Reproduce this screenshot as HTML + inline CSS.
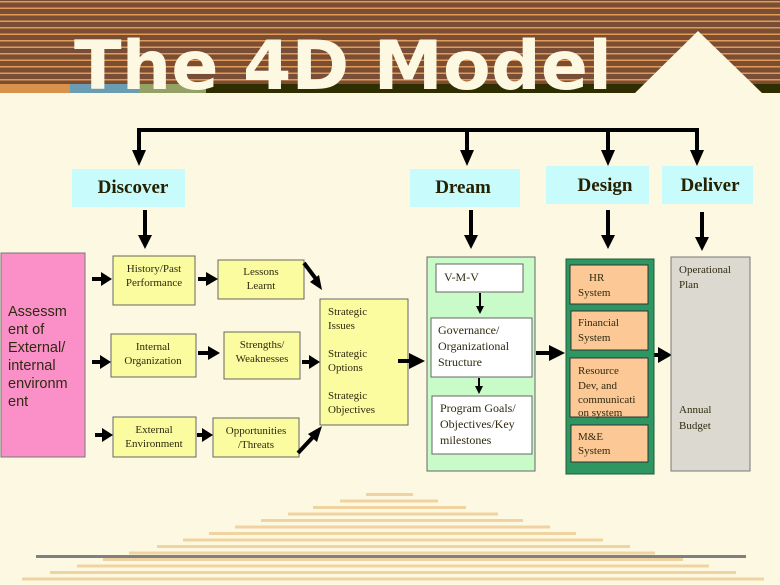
<!DOCTYPE html>
<html><head><meta charset="utf-8"><style>
html,body{margin:0;padding:0;background:#fdf8e2;}
svg{display:block}
.s{font-family:"Liberation Serif",serif;fill:#2f2a10;}
</style></head><body>
<svg width="780" height="585" viewBox="0 0 780 585" xmlns="http://www.w3.org/2000/svg">
<rect width="780" height="585" fill="#fdf8e2"/>
<!-- header stripes -->
<rect x="0" y="0" width="780" height="88" fill="#7a4e35"/>
<g fill="#e39a55">
<rect x="0" y="1" width="780" height="1.5"/><rect x="0" y="7.5" width="780" height="1.5"/><rect x="0" y="14" width="780" height="1.5"/><rect x="0" y="20.5" width="780" height="1.5"/><rect x="0" y="27" width="780" height="1.5"/><rect x="0" y="33.5" width="780" height="1.5"/><rect x="0" y="40" width="780" height="1.5"/><rect x="0" y="46.5" width="780" height="1.5"/><rect x="0" y="53" width="780" height="1.5"/><rect x="0" y="59.5" width="780" height="1.5"/><rect x="0" y="66" width="780" height="1.5"/><rect x="0" y="72.5" width="780" height="1.5"/><rect x="0" y="79" width="780" height="1.5"/>
</g>
<rect x="0" y="84" width="780" height="9" fill="#2e2e00"/>
<rect x="0" y="84" width="70" height="9" fill="#d9924c"/>
<rect x="70" y="84" width="69" height="9" fill="#6a9cb3"/>
<rect x="139" y="84" width="67" height="9" fill="#94a064"/>
<rect x="0" y="93" width="780" height="40" fill="#fdf8e2"/>
<polygon points="698,31 635,93 762,93" fill="#fdf8e2"/>
<text x="74" y="89" font-family="DejaVu Sans, sans-serif" font-weight="bold" font-size="68" fill="#fdf8e2" textLength="538" lengthAdjust="spacingAndGlyphs">The 4D Model</text>

<!-- top bracket -->
<g stroke="#000" stroke-width="4" fill="none">
<polyline points="139,150 139,130 697,130 697,150"/>
<line x1="467" y1="130" x2="467" y2="150"/><line x1="608" y1="130" x2="608" y2="150"/>
</g>
<g fill="#000">
<polygon points="132,150 146,150 139,166"/><polygon points="460,150 474,150 467,166"/><polygon points="601,150 615,150 608,166"/><polygon points="690,150 704,150 697,166"/>
</g>
<!-- labels -->
<g fill="#c8fbfc">
<rect x="72" y="169" width="113" height="38"/><rect x="410" y="169" width="110" height="38"/><rect x="546" y="166" width="103" height="38"/><rect x="662" y="166" width="91" height="38"/>
</g>
<g font-family="Liberation Serif,serif" fill="#262100" font-weight="bold" font-size="19" text-anchor="middle">
<text x="133" y="193">Discover</text><text x="463" y="193">Dream</text><text x="605" y="191">Design</text><text x="710" y="191">Deliver</text>
</g>
<!-- down arrows -->
<g stroke="#000" stroke-width="4"><line x1="145" y1="210" x2="145" y2="236"/><line x1="471" y1="210" x2="471" y2="236"/><line x1="608" y1="210" x2="608" y2="236"/><line x1="702" y1="212" x2="702" y2="238"/></g>
<g fill="#000"><polygon points="138,235 152,235 145,249"/><polygon points="464,235 478,235 471,249"/><polygon points="601,235 615,235 608,249"/><polygon points="695,237 709,237 702,251"/></g>

<!-- pink -->
<rect x="1" y="253" width="84" height="204" fill="#fb90c9" stroke="#777" stroke-width="1"/>
<g font-family="Liberation Sans, sans-serif" font-size="14.5" fill="#2f2a10">
<text x="8" y="316">Assessm</text><text x="8" y="334">ent of</text><text x="8" y="352">External/</text><text x="8" y="370">internal</text><text x="8" y="388">environm</text><text x="8" y="406">ent</text>
</g>
<!-- yellow boxes -->
<g fill="#fbfb9f" stroke="#666" stroke-width="1">
<rect x="113" y="256" width="82" height="49"/><rect x="218" y="260" width="86" height="39"/>
<rect x="111" y="334" width="85" height="43"/><rect x="224" y="332" width="76" height="47"/>
<rect x="113" y="417" width="83" height="40"/><rect x="213" y="418" width="86" height="39"/>
<rect x="320" y="299" width="88" height="126"/>
</g>
<g class="s" font-size="11" text-anchor="middle">
<text x="154" y="272">History/Past</text><text x="154" y="286">Performance</text>
<text x="261" y="275">Lessons</text><text x="261" y="289">Learnt</text>
<text x="153" y="350">Internal</text><text x="153" y="364">Organization</text>
<text x="262" y="348">Strengths/</text><text x="262" y="362">Weaknesses</text>
<text x="154" y="433">External</text><text x="154" y="447">Environment</text>
<text x="256" y="434">Opportunities</text><text x="256" y="448">/Threats</text>
</g>
<g class="s" font-size="11">
<text x="328" y="315">Strategic</text><text x="328" y="329">Issues</text>
<text x="328" y="357">Strategic</text><text x="328" y="371">Options</text>
<text x="328" y="399">Strategic</text><text x="328" y="413">Objectives</text>
</g>
<!-- short arrows -->
<g stroke="#000" stroke-width="4">
<line x1="92" y1="279" x2="102" y2="279"/><line x1="198" y1="279" x2="207" y2="279"/>
<line x1="92" y1="362" x2="101" y2="362"/><line x1="198" y1="353" x2="209" y2="353"/><line x1="302" y1="362" x2="310" y2="362"/>
<line x1="95" y1="435" x2="103" y2="435"/><line x1="197" y1="435" x2="203" y2="435"/>
<line x1="304" y1="263" x2="316" y2="279"/><line x1="298" y1="453" x2="313" y2="437"/>
<line x1="398" y1="361" x2="410" y2="361"/><line x1="536" y1="353" x2="550" y2="353"/><line x1="651" y1="355" x2="659" y2="355"/>
</g>
<g fill="#000">
<polygon points="101,272 112,279 101,286"/><polygon points="206,272 218,279 206,286"/>
<polygon points="100,355 111,362 100,369"/><polygon points="208,346 220,353 208,360"/><polygon points="309,355 320,362 309,369"/>
<polygon points="102,428 113,435 102,442"/><polygon points="202,428 213,435 202,442"/>
<polygon points="310,282 322,290 319,275"/><polygon points="308,434 322,426 317,442"/>
<polygon points="409,353 425,361 409,369"/><polygon points="549,345 565,353 549,361"/><polygon points="658,347 672,355 658,363"/>
</g>
<!-- dream -->
<rect x="427" y="257" width="108" height="214" fill="#c8fbc8" stroke="#666"/>
<g fill="#fff" stroke="#666"><rect x="436" y="264" width="87" height="28"/><rect x="431" y="318" width="101" height="59"/><rect x="432" y="396" width="100" height="58"/></g>
<g stroke="#000" stroke-width="2"><line x1="480" y1="293" x2="480" y2="308"/><line x1="479" y1="378" x2="479" y2="387"/></g>
<g fill="#000"><polygon points="476,306 484,306 480,314"/><polygon points="475,386 483,386 479,394"/></g>
<g class="s" font-size="12">
<text x="444" y="281">V-M-V</text>
<text x="438" y="334">Governance/</text><text x="438" y="350">Organizational</text><text x="438" y="366">Structure</text>
<text x="440" y="412">Program Goals/</text><text x="440" y="428">Objectives/Key</text><text x="440" y="444">milestones</text>
</g>
<!-- design -->
<rect x="566" y="259" width="88" height="215" fill="#2e9660" stroke="#1e5a3a"/>
<g fill="#fbc896" stroke="#333"><rect x="570" y="265" width="78" height="39"/><rect x="571" y="311" width="77" height="39"/><rect x="570" y="358" width="78" height="59"/><rect x="571" y="425" width="77" height="37"/></g>
<g class="s" font-size="11">
<text x="589" y="281">HR</text><text x="578" y="296">System</text>
<text x="578" y="326">Financial</text><text x="578" y="341">System</text>
<text x="578" y="374">Resource</text><text x="578" y="389">Dev, and</text><text x="578" y="403">communicati</text><text x="578" y="416">on system</text>
<text x="578" y="440">M&amp;E</text><text x="578" y="454">System</text>
</g>
<!-- deliver -->
<rect x="671" y="257" width="79" height="214" fill="#dcdad0" stroke="#777"/>
<g class="s" font-size="11">
<text x="679" y="273">Operational</text><text x="679" y="288">Plan</text>
<text x="679" y="413">Annual</text><text x="679" y="429">Budget</text>
</g>
<!-- bottom pyramid -->
<g fill="#efd3a0">
<rect x="366" y="493" width="47" height="3"/><rect x="340" y="499.5" width="98" height="3"/><rect x="313" y="506" width="153" height="3"/><rect x="288" y="512.5" width="210" height="3"/><rect x="261" y="519" width="262" height="3"/><rect x="235" y="525.5" width="315" height="3"/><rect x="209" y="532" width="367" height="3"/><rect x="183" y="538.5" width="420" height="3"/><rect x="157" y="545" width="473" height="3"/><rect x="129" y="551.5" width="526" height="3"/><rect x="103" y="558" width="580" height="3"/><rect x="77" y="564.5" width="632" height="3"/><rect x="50" y="571" width="686" height="3"/><rect x="22" y="577.5" width="742" height="3"/>
</g>
<rect x="36" y="555" width="710" height="3" fill="#808080"/>
</svg>
</body></html>
